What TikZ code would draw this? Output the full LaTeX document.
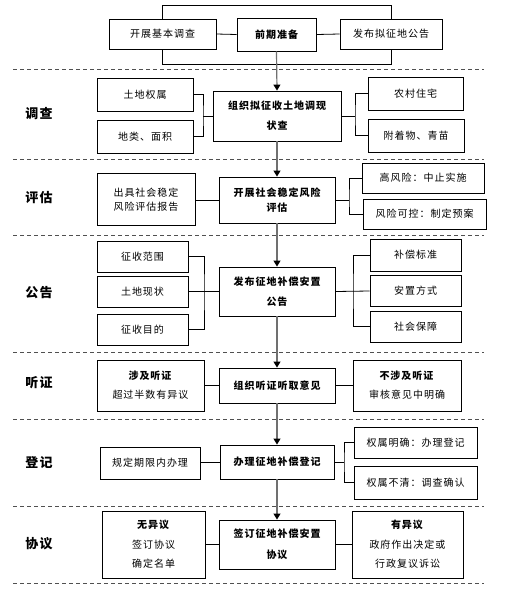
\documentclass[tikz,border=0pt]{standalone}
\usepackage{fontspec}
\setmainfont{Noto Sans CJK SC}[LetterSpace=10]
\usetikzlibrary{arrows.meta}
\definecolor{arrowgray}{HTML}{707070}
\definecolor{dashgray}{HTML}{505050}
\tikzset{
  box/.style={draw=black,line width=0.9pt,inner sep=0pt,align=center,font=\fontsize{10}{14}\selectfont},
  mainbox/.style={box,font=\fontsize{10}{20}\bfseries\selectfont},
  sect/.style={font=\fontsize{13}{15}\bfseries\selectfont,inner sep=0pt},
  conn/.style={line width=0.8pt},
  flow/.style={line width=1.2pt,draw=arrowgray,-{Triangle[width=7pt,length=6pt,color=black]}},
  sep/.style={line width=0.9pt,draw=dashgray,dash pattern=on 4pt off 3pt}
}
\begin{document}
\begin{tikzpicture}[x=1pt,y=-1pt]
\useasboundingbox (0,0) rectangle (507,590);
\fill[white] (0,0) rectangle (507,590);

% separators
\foreach \yy in {69,159,235,352,419,506,583}
  \draw[sep] (13,\yy) -- (484,\yy);

% section labels
\node[sect] (l1) at (39,114) {调查};
\node[sect] (l2) at (39,198) {评估};
\node[sect] (l3) at (39,293) {公告};
\node[sect] (l4) at (39,383) {听证};
\node[sect] (l5) at (39,463) {登记};
\node[sect] (l6) at (39,544) {协议};

% top
\node[box,minimum width=107,minimum height=30] (kz) at (162.5,34) {开展基本调查};
\node[mainbox,minimum width=79,minimum height=33] (qq) at (276.5,34.5) {前期准备};
\node[box,minimum width=102,minimum height=30] (fb) at (391,34) {发布拟征地公告};
\coordinate (t1) at (162.5,5);
\coordinate (t2) at (391,5);
\coordinate (b1) at (162.5,64);
\coordinate (b2) at (391,64);
\draw[conn] (kz.north) -- (t1) -- (t2) -- (fb.north);
\draw[conn] (kz.south) -- (b1) -- (b2) -- (fb.south);
\draw[conn] (kz.east) -- (qq.west);
\draw[conn] (qq.east) -- (fb.west);

% 调查
\node[mainbox,minimum width=128,minimum height=50] (dc) at (277,116) {组织拟征收土地调现\\状查};
\node[box,minimum width=96,minimum height=33] (tq) at (145,94.5) {土地权属};
\node[box,minimum width=96,minimum height=33] (dl) at (145,136.5) {地类、面积};
\node[box,minimum width=95,minimum height=33] (nc) at (415.5,93.5) {农村住宅};
\node[box,minimum width=96,minimum height=33] (fz) at (416,135.5) {附着物、青苗};
\coordinate (dcL) at (203,116);
\coordinate (dcR) at (355,116);
\draw[conn] (tq.east) -| (dcL) |- (dl.east);
\draw[conn] (dcL) -- (dc.west);
\draw[conn] (nc.west) -| (dcR) |- (fz.west);
\draw[conn] (dc.east) -- (dcR);

% 评估
\node[mainbox,minimum width=116,minimum height=46,font=\fontsize{10}{15}\bfseries\selectfont] (pg) at (277,200) {开展社会稳定风险\\评估};
\node[box,minimum width=98,minimum height=52] (cj) at (146,199.5) {出具社会稳定\\风险评估报告};
\node[box,minimum width=122,minimum height=30] (gf) at (423,178) {高风险：中止实施};
\node[box,minimum width=123,minimum height=30] (fk) at (424.5,214) {风险可控：制定预案};
\coordinate (pgR) at (349,200);
\draw[conn] (cj.east |- pg.west) -- (pg.west);
\draw[conn] (gf.west) -| (pgR) |- (fk.west);
\draw[conn] (pg.east) -- (pgR);

% 公告
\node[mainbox,minimum width=116,minimum height=49] (gg) at (277,291.5) {发布征地补偿安置\\公告};
\node[box,minimum width=91,minimum height=31] (zs) at (142.5,256.5) {征收范围};
\node[box,minimum width=91,minimum height=31] (td) at (142.5,291.5) {土地现状};
\node[box,minimum width=91,minimum height=31] (zm) at (142.5,329.5) {征收目的};
\node[box,minimum width=91,minimum height=32] (bc) at (415.5,255) {补偿标准};
\node[box,minimum width=91,minimum height=31] (az) at (415.5,291) {安置方式};
\node[box,minimum width=91,minimum height=31] (sb) at (415.5,326.5) {社会保障};
\coordinate (ggL) at (204,291.5);
\coordinate (ggR) at (353,291.5);
\draw[conn] (zs.east) -| (ggL) |- (zm.east);
\draw[conn] (td.east) -- (gg.west);
\draw[conn] (bc.west) -| (ggR) |- (sb.west);
\draw[conn] (gg.east) -- (az.west);

% 听证
\node[mainbox,minimum width=116,minimum height=35] (tz) at (277,385.5) {组织听证听取意见};
\node[box,minimum width=107,minimum height=51,font=\fontsize{10}{19}\selectfont] (sj) at (150.5,385.5) {\textbf{涉及听证}\\超过半数有异议};
\node[box,minimum width=108,minimum height=51,font=\fontsize{10}{19}\selectfont] (bs) at (407,385.5) {\textbf{不涉及听证}\\审核意见中明确};
\draw[conn] (sj.east) -- (tz.west);
\draw[conn] (tz.east) -- (bs.west);

% 登记
\node[mainbox,minimum width=114,minimum height=34] (dj) at (277,462) {办理征地补偿登记};
\node[box,minimum width=100,minimum height=32] (gd) at (150,463) {规定期限内办理};
\node[box,minimum width=123,minimum height=31] (qm) at (415.5,442.5) {权属明确：办理登记};
\node[box,minimum width=123,minimum height=33] (qb) at (415.5,482.5) {权属不清：调查确认};
\coordinate (djR) at (344,462);
\draw[conn] (gd.east |- dj.west) -- (dj.west);
\draw[conn] (qm.west) -| (djR) |- (qb.west);
\draw[conn] (dj.east) -- (djR);

% 协议
\node[mainbox,minimum width=116,minimum height=49,font=\fontsize{10}{21}\bfseries\selectfont] (xy) at (277,544.5) {签订征地补偿安置\\协议};
\node[box,minimum width=103,minimum height=67,font=\fontsize{10}{19.5}\selectfont] (wy) at (153.5,544.5) {\textbf{无异议}\\签订协议\\确定名单};
\node[box,minimum width=111,minimum height=67,font=\fontsize{10}{19.5}\selectfont] (yy) at (407.5,544.5) {\textbf{有异议}\\政府作出决定或\\行政复议诉讼};
\draw[conn] (wy.east) -- (xy.west);
\draw[conn] (xy.east) -- (yy.west);

% flow arrows
\draw[flow] (qq.south) -- (dc.north);
\draw[flow] (dc.south) -- (pg.north);
\draw[flow] (pg.south) -- (gg.north);
\draw[flow] (gg.south) -- (tz.north);
\draw[flow] (tz.south) -- (dj.north);
\draw[flow] (dj.south) -- (xy.north);
\end{tikzpicture}
\end{document}
